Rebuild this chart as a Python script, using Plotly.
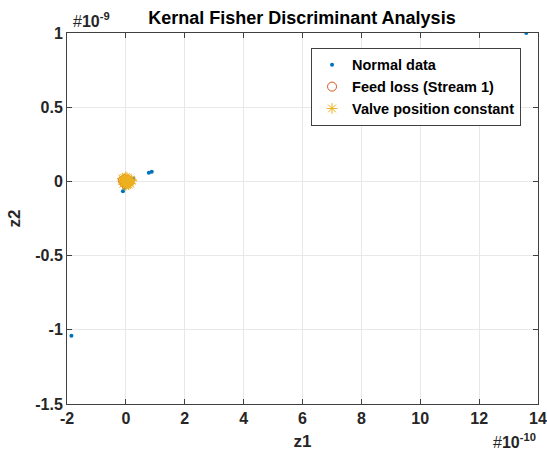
import plotly.graph_objects as go

# Data (z1 in units of 1e-10, z2 in units of 1e-9, scaled below)
normal_z1 = [13.6, -1.85, 0.78, 0.88, -0.1, -0.05, 0.25, 0.1, -0.02, 0.05, 0.15, -0.08]
normal_z2 = [1.0, -1.04, 0.058, 0.065, -0.067, -0.042, 0.02, 0.01, -0.01, 0.005, -0.005, 0.012]

feed_z1 = [0.0, 0.05, -0.05, 0.1, -0.1, 0.02, 0.08, -0.03, 0.12, -0.07]
feed_z2 = [0.0, 0.01, -0.01, 0.005, 0.008, -0.015, -0.008, 0.015, 0.0, -0.005]

valve_z1 = [0.0, 0.05, -0.05, 0.1, -0.1, 0.15, -0.12, 0.02, 0.08, -0.03, 0.12, -0.07,
            0.18, 0.04, -0.02, 0.09, -0.09, 0.0, 0.06, -0.06, 0.13, 0.2, -0.04, 0.01]
valve_z2 = [0.0, 0.01, -0.01, 0.005, 0.008, -0.015, 0.02, -0.02, -0.008, 0.018, 0.0, -0.005,
            0.012, 0.025, -0.028, -0.022, -0.018, 0.03, -0.012, 0.022, -0.01, 0.005, 0.002, -0.006]

x_tickvals = [-2, 0, 2, 4, 6, 8, 10, 12, 14]
y_tickvals = [1, 0.5, 0, -0.5, -1, -1.5]

sx, sy = 1e-10, 1e-9
FONT = "Liberation Sans, Arial, sans-serif"

fig = go.Figure()
fig.add_trace(go.Scatter(x=[v * sx for v in normal_z1], y=[v * sy for v in normal_z2],
                         mode="markers", name="Normal data",
                         marker=dict(symbol="circle", size=4, color="#0072BD")))
fig.add_trace(go.Scatter(x=[v * sx for v in feed_z1], y=[v * sy for v in feed_z2],
                         mode="markers", name="Feed loss (Stream 1)",
                         marker=dict(symbol="circle-open", size=9, color="#D95319",
                                     line=dict(width=1, color="#D95319"))))
fig.add_trace(go.Scatter(x=[v * sx for v in valve_z1], y=[v * sy for v in valve_z2],
                         mode="markers", name="Valve position constant",
                         marker=dict(symbol="asterisk-open", size=9, color="#EDB120",
                                     line=dict(width=1, color="#EDB120"))))

axis_common = dict(showline=True, linecolor="#404040", linewidth=1, mirror="ticks",
                   ticks="inside", ticklen=5, tickcolor="#404040", automargin=False,
                   showgrid=True, gridcolor="#E8E8E8", gridwidth=1, zeroline=False,
                   tickfont=dict(family=FONT, size=16, color="#262626", weight="bold"))

fig.update_layout(
    width=547, height=452,
    margin=dict(l=67, r=9, t=33, b=48),
    paper_bgcolor="white", plot_bgcolor="white",
    title=dict(text="Kernal Fisher Discriminant Analysis", x=0.552, xanchor="center",
               y=0.96, yanchor="middle",
               font=dict(family=FONT, size=18, color="black", weight="bold")),
    xaxis=dict(range=[-2 * sx, 14 * sx], tickvals=[v * sx for v in x_tickvals],
               ticktext=[str(v) for v in x_tickvals],
               title=dict(text="z1", standoff=8,
                          font=dict(family=FONT, size=17, color="#262626", weight="bold")),
               **axis_common),
    yaxis=dict(range=[-1.5 * sy, 1 * sy], tickvals=[v * sy for v in y_tickvals],
               ticktext=[("%g" % v) for v in y_tickvals],
               title=dict(text="z2", standoff=10,
                          font=dict(family=FONT, size=17, color="#262626", weight="bold")),
               **axis_common),
    showlegend=True,
    legend=dict(x=0.964, y=0.96, xanchor="right", yanchor="top",
                bgcolor="white", bordercolor="#404040", borderwidth=1,
                font=dict(family=FONT, size=14.5, color="black", weight="bold"),
                tracegroupgap=0),
    annotations=[
        dict(text="#<b>10<sup>-9</sup></b>", xref="paper", yref="paper", x=0.0, y=1.0,
             xanchor="left", yanchor="bottom", showarrow=False, xshift=4, yshift=1,
             font=dict(family=FONT, size=16, color="#262626")),
        dict(text="#<b>10<sup>-10</sup></b>", xref="paper", yref="paper", x=1.0, y=0.0,
             xanchor="right", yanchor="top", showarrow=False, yshift=-25,
             font=dict(family=FONT, size=16, color="#262626")),
    ],
)

fig.write_html("out.html")
